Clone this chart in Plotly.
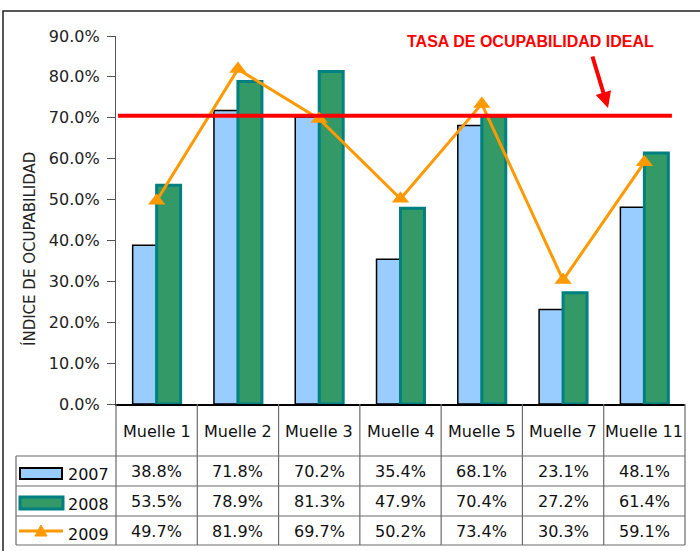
import plotly.graph_objects as go

# --- Data
muelles = ["Muelle 1", "Muelle 2", "Muelle 3", "Muelle 4", "Muelle 5", "Muelle 7", "Muelle 11"]
anios = ["2007", "2008", "2009"]
v2007 = [0.388, 0.718, 0.702, 0.354, 0.681, 0.231, 0.481]
v2008 = [0.535, 0.789, 0.813, 0.479, 0.704, 0.272, 0.614]
v2009 = [0.497, 0.819, 0.697, 0.502, 0.734, 0.303, 0.591]
tasa_ideal = 0.705

FONT = "DejaVu Sans"
AZUL = "#99CCFF"
VERDE = "#339966"
TEAL = "#008080"
NARANJA = "#FF9900"
ROJO = "#FF0000"
GRIS = "#6b6b6b"

fig = go.Figure()
fig.add_trace(go.Bar(x=muelles, y=v2007, name="2007", marker=dict(color=AZUL, line=dict(color="black", width=1.5))))
fig.add_trace(go.Bar(x=muelles, y=v2008, name="2008", marker=dict(color=VERDE, line=dict(color=TEAL, width=3))))
fig.add_trace(go.Scatter(x=muelles, y=v2009, name="2009", mode="lines+markers",
                         line=dict(color=NARANJA, width=3),
                         marker=dict(symbol="triangle-up", size=15, color=NARANJA),
                         cliponaxis=False))

# plot area geometry (px) used to convert table rows to paper coords
PH = 368.0
PW = 569.0
def py(px_y):
    return (404 - px_y) / PH
def px(px_x):
    return (px_x - 116) / PW

shapes = []
annots = []

def texto(t, x, y, xref="paper", size=16, color="#111", family=FONT, **kw):
    d = dict(text=t, xref=xref, yref="paper", x=x, y=y, showarrow=False,
             xanchor=kw.pop("xanchor", "center"), yanchor="middle",
             font=dict(family=family, size=size, color=color))
    d.update(kw)
    annots.append(d)

# ideal line + label
shapes.append(dict(type="line", xref="paper", yref="y", x0=0.0035, x1=0.977, y0=tasa_ideal, y1=tasa_ideal,
                   line=dict(color=ROJO, width=4)))
texto("<b>TASA DE OCUPABILIDAD IDEAL</b>", px(530), py(42), size=16, color=ROJO, family="Liberation Sans")
annots.append(dict(text="", xref="paper", yref="paper", x=px(608), y=py(108), ax=-16, ay=-53,
                   showarrow=True, arrowhead=2, arrowsize=0.8, arrowwidth=4, arrowcolor=ROJO))

# y title
texto("ÍNDICE DE OCUPABILIDAD", px(29), py(249), size=15, color="#222", textangle=-90)

# --- table under the chart
n = len(muelles)
filas = [py(456), py(486), py(516), py(545)]
izq = px(16)
for i in range(n + 1):
    shapes.append(dict(type="line", xref="paper", yref="paper", x0=i / n, x1=i / n, y0=0, y1=filas[-1],
                       line=dict(color=GRIS, width=1.2)))
shapes.append(dict(type="line", xref="paper", yref="paper", x0=izq, x1=izq, y0=filas[0], y1=filas[-1],
                   line=dict(color=GRIS, width=1.2)))
for f in filas:
    shapes.append(dict(type="line", xref="paper", yref="paper", x0=izq, x1=1, y0=f, y1=f,
                       line=dict(color=GRIS, width=1.2)))

for m in muelles:
    texto(m, m, py(431), xref="x")
centros = [py(471), py(501), py(531)]
for serie, yc in zip([v2007, v2008, v2009], centros):
    for m, v in zip(muelles, serie):
        texto(f"{v * 100:.1f}%", m, yc, xref="x")

# legend keys in the first column
shapes.append(dict(type="rect", xref="paper", yref="paper", x0=px(20), x1=px(62), y0=py(468), y1=py(479),
                   fillcolor=AZUL, line=dict(color="black", width=2)))
shapes.append(dict(type="rect", xref="paper", yref="paper", x0=px(20), x1=px(63), y0=py(497), y1=py(509),
                   fillcolor=VERDE, line=dict(color=TEAL, width=3)))
shapes.append(dict(type="line", xref="paper", yref="paper", x0=px(19), x1=px(63), y0=py(531), y1=py(531),
                   line=dict(color=NARANJA, width=3)))
shapes.append(dict(type="path", xref="paper", yref="paper",
                   path=f"M {px(35)} {py(536)} L {px(47)} {py(536)} L {px(41)} {py(525)} Z",
                   fillcolor=NARANJA, line=dict(color=NARANJA, width=1)))
for i, a in enumerate(anios):
    texto(a, px(66), py(474 + 30 * i), size=16, xanchor="left")

# outer frame
shapes.append(dict(type="rect", xref="paper", yref="paper", x0=px(3), x1=px(705), y0=py(11), y1=py(560),
                   line=dict(color="#222", width=1.5), fillcolor="rgba(0,0,0,0)"))

fig.update_layout(
    width=700, height=551,
    margin=dict(l=116, r=15, t=36, b=147),
    paper_bgcolor="white", plot_bgcolor="white",
    barmode="group", bargap=0.41, bargroupgap=0,
    showlegend=False,
    shapes=shapes, annotations=annots,
    font=dict(family=FONT, size=16, color="#222"),
)
fig.update_xaxes(showticklabels=False, showgrid=False, showline=True, linecolor="black", linewidth=1.5,
                 range=[-0.5, n - 0.5], zeroline=False)
fig.update_yaxes(range=[0, 0.9], dtick=0.1, tickformat=".1%", showgrid=False, zeroline=False,
                 showline=True, linecolor="#555", linewidth=1.2, ticks="outside", ticklen=8, tickcolor="#555",
                 ticklabelstandoff=4, tickfont=dict(family=FONT, size=16, color="#222"))

fig.write_html("out.html", config={"displayModeBar": False},
               post_script="document.body.style.margin='0';")
